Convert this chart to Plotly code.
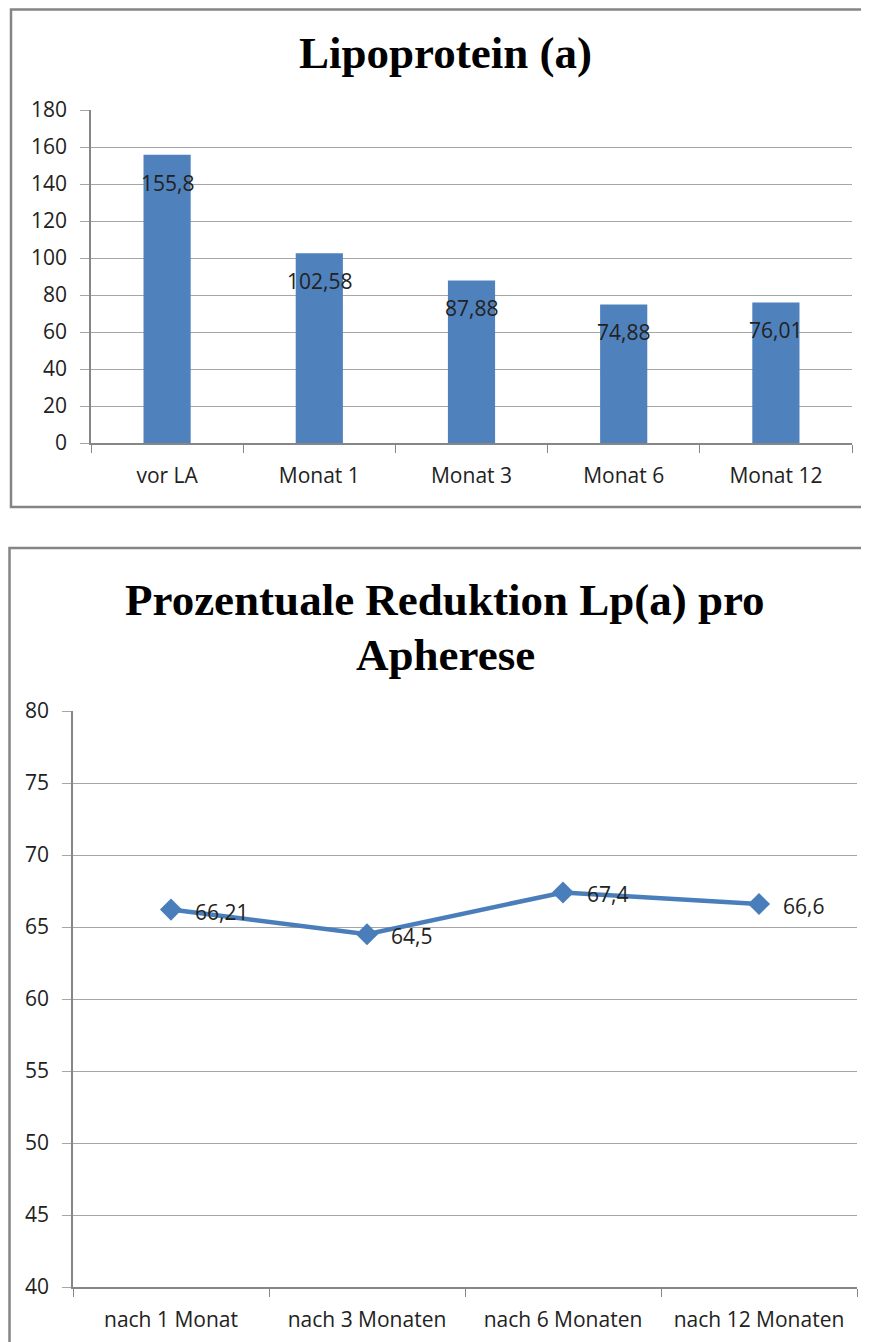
import plotly.graph_objects as go

W, H = 869, 1342
OFF = 8  # the page body adds an 8px margin around the figure

# chart 1: Lipoprotein (a)
lpa_categories = ["vor LA", "Monat 1", "Monat 3", "Monat 6", "Monat 12"]
lpa_values = [155.8, 102.58, 87.88, 74.88, 76.01]

# chart 2: percentage reduction per apheresis
red_categories = ["nach 1 Monat", "nach 3 Monaten", "nach 6 Monaten", "nach 12 Monaten"]
red_values = [66.21, 64.5, 67.4, 66.6]

FW, FH = W - OFF, H - OFF


def px_x(x):
    return (x - OFF) / FW


def px_y(y):
    return 1 - (y - OFF) / FH


def de_num(v):
    # German decimal comma
    return str(v).replace(".", ",")


LABEL_FONT = dict(family="Open Sans", size=21, color="#222222")
GRID = "#a6a6a6"
AXIS = "#868686"
BAR_BLUE = "#4f81bd"
LINE_BLUE = "#4a7ebb"

fig = go.Figure()

fig.add_trace(go.Bar(
    x=lpa_categories, y=lpa_values,
    marker=dict(color=BAR_BLUE, line=dict(width=0)),
    xaxis="x", yaxis="y", hoverinfo="skip",
))

fig.add_trace(go.Scatter(
    x=red_categories, y=red_values,
    mode="lines+markers",
    line=dict(color=LINE_BLUE, width=4.5),
    marker=dict(symbol="diamond", size=17, color=LINE_BLUE),
    xaxis="x2", yaxis="y2", hoverinfo="skip",
))

annotations = []
# bar labels, inside the top of each bar
for c, v in zip(lpa_categories, lpa_values):
    annotations.append(dict(
        x=c, y=v, xref="x", yref="y", text=de_num(v), showarrow=False,
        xanchor="center", yanchor="middle", yshift=-28, font=LABEL_FONT,
    ))
# line labels, right of each marker
for c, v in zip(red_categories, red_values):
    annotations.append(dict(
        x=c, y=v, xref="x2", yref="y2", text=de_num(v), showarrow=False,
        xanchor="left", yanchor="middle", xshift=22, yshift=-2, font=LABEL_FONT,
    ))

TITLE_FONT = dict(family="Liberation Serif", size=45, color="#000000")
annotations += [
    dict(x=px_x(445), y=px_y(53), xref="paper", yref="paper", showarrow=False,
         text="<b>Lipoprotein (a)</b>", font=TITLE_FONT, yanchor="middle"),
    dict(x=px_x(445), y=px_y(600), xref="paper", yref="paper", showarrow=False,
         text="<b>Prozentuale Reduktion Lp(a) pro</b>", font=TITLE_FONT, yanchor="middle"),
    dict(x=px_x(445), y=px_y(655), xref="paper", yref="paper", showarrow=False,
         text="<b>Apherese</b>", font=TITLE_FONT, yanchor="middle"),
]

# chart frames
shapes = [
    dict(type="rect", xref="paper", yref="paper",
         x0=px_x(11), x1=px_x(866), y0=px_y(507), y1=px_y(9.5),
         line=dict(color="#858585", width=2.5), layer="below"),
    dict(type="rect", xref="paper", yref="paper",
         x0=px_x(9.5), x1=px_x(900), y0=px_y(1400), y1=px_y(548),
         line=dict(color="#858585", width=2.5), layer="below"),
]

common_x = dict(
    type="category", showgrid=False, showline=True, linecolor=AXIS, linewidth=1.5,
    ticks="outside", tickson="boundaries", ticklen=8, tickcolor=AXIS,
    tickfont=LABEL_FONT, fixedrange=True, automargin=False,
)
common_y = dict(
    showgrid=True, gridcolor=GRID, gridwidth=1, showline=True, linecolor=AXIS,
    linewidth=1.5, ticks="outside", ticklen=9, tickcolor=GRID, tickfont=LABEL_FONT,
    zeroline=False, fixedrange=True, automargin=False,
)

fig.update_layout(
    width=FW, height=FH,
    margin=dict(l=0, r=0, t=0, b=0, pad=0),
    paper_bgcolor="white", plot_bgcolor="white",
    showlegend=False,
    bargap=0.69,
    xaxis=dict(common_x, domain=[px_x(91), px_x(852)], anchor="y",
               range=[-0.5, len(lpa_categories) - 0.5], ticklabelstandoff=13),
    yaxis=dict(common_y, domain=[px_y(443), px_y(110)], anchor="x",
               range=[0, 180], dtick=20, ticklabelstandoff=9),
    xaxis2=dict(common_x, domain=[px_x(73), px_x(857)], anchor="y2",
                range=[-0.5, len(red_categories) - 0.5], ticklabelstandoff=13),
    yaxis2=dict(common_y, domain=[px_y(1287), px_y(711)], anchor="x2",
                range=[40, 80], dtick=5, ticklabelstandoff=9),
    annotations=annotations,
    shapes=shapes,
)

fig.write_html("out.html")
